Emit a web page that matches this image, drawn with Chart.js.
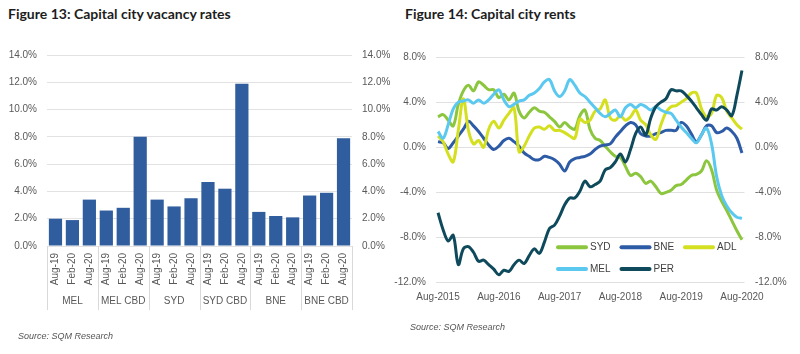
<!DOCTYPE html>
<html>
<head>
<meta charset="utf-8">
<script src="https://cdn.jsdelivr.net/npm/chart.js@4.4.1/dist/chart.umd.min.js"></script>
<style>
    html, body { margin: 0; padding: 0; background: #fff; }
    #wrap { position: relative; width: 800px; height: 354px; overflow: hidden; }
    .title { position: absolute; top: 5px; font-family: Lato, sans-serif; font-weight: 700; font-size: 14px; color: #1d1d1d; white-space: nowrap; }
    .source { position: absolute; font-family: "Liberation Sans", Arial, sans-serif; font-style: italic; font-size: 9px; color: #555; white-space: nowrap; }
    canvas { position: absolute; top: 0; }
</style>
</head>
<body>
<div id="wrap">
    <div class="title" style="left:8px">Figure 13: Capital city vacancy rates</div>
    <div class="title" style="left:405px">Figure 14: Capital city rents</div>
    <canvas id="vacancy" width="400" height="354" style="left:0"></canvas>
    <canvas id="rents" width="412" height="354" style="left:388px"></canvas>
    <div class="source" style="left:18px; top:331px">Source: SQM Research</div>
    <div class="source" style="left:410px; top:322px">Source: SQM Research</div>
</div>
<script>
// Figure 13 data
const periods = ["Aug-19", "Feb-20", "Aug-20"];
const cities = ["MEL", "MEL CBD", "SYD", "SYD CBD", "BNE", "BNE CBD"];
const vacancy = [2.0, 1.9, 3.4, 2.6, 2.8, 8.0, 3.4, 2.9, 3.5, 4.7, 4.2, 11.9, 2.5, 2.2, 2.1, 3.7, 3.9, 7.9];

// Figure 14 data
const months = [
    "Aug-2015", "Sep-2015", "Oct-2015", "Nov-2015", "Dec-2015",
    "Jan-2016", "Feb-2016", "Mar-2016", "Apr-2016", "May-2016", "Jun-2016", "Jul-2016", "Aug-2016", "Sep-2016", "Oct-2016", "Nov-2016", "Dec-2016",
    "Jan-2017", "Feb-2017", "Mar-2017", "Apr-2017", "May-2017", "Jun-2017", "Jul-2017", "Aug-2017", "Sep-2017", "Oct-2017", "Nov-2017", "Dec-2017",
    "Jan-2018", "Feb-2018", "Mar-2018", "Apr-2018", "May-2018", "Jun-2018", "Jul-2018", "Aug-2018", "Sep-2018", "Oct-2018", "Nov-2018", "Dec-2018",
    "Jan-2019", "Feb-2019", "Mar-2019", "Apr-2019", "May-2019", "Jun-2019", "Jul-2019", "Aug-2019", "Sep-2019", "Oct-2019", "Nov-2019", "Dec-2019",
    "Jan-2020", "Feb-2020", "Mar-2020", "Apr-2020", "May-2020", "Jun-2020", "Jul-2020", "Aug-2020",
];
const syd = [2.7, 2.9, 2.4, 1.9, 3.8, 5.0, 5.5, 5.0, 5.8, 5.5,
    5.1, 5.1, 4.4, 4.7, 4.2, 4.8, 3.2, 2.6, 3.1, 3.5,
    3.2, 3.1, 2.7, 2.3, 1.8, 2.2, 1.8, 1.6, 2.8, 3.3,
    1.6, 0.8, 0.6, 0.1, -0.4, -0.8, -0.9, -1.7, -2.5, -2.3,
    -2.6, -3.2, -3.0, -3.5, -4.1, -4.0, -3.8, -3.4, -3.3, -2.9,
    -2.5, -2.4, -2.1, -1.2, -2.0, -3.8, -4.8, -5.6, -6.5, -7.4, -8.2];
const bne = [0.5, 0.4, -0.1, 0.4, 1.0, 1.6, 2.3, 1.9, 1.4, 0.8,
    0.2, -0.2, 0.1, 0.6, 0.8, 0.5, 0.1, -0.5, -0.8, -1.1,
    -1.1, -0.8, -0.9, -1.1, -1.5, -2.1, -1.3, -1.0, -0.9, -0.8,
    -0.6, -0.2, 0.1, 0.2, 0.3, 0.9, 1.4, 1.9, 2.2, 2.0,
    1.2, 1.0, 1.0, 1.2, 1.3, 1.5, 1.5, 1.5, 2.2, 1.9,
    1.2, 0.5, 1.1, 1.9, 1.9, 1.3, 1.4, 1.7, 1.4, 0.8, -0.5];
const adl = [1.0, 0.5, -0.6, -1.3, 1.5, 4.3, 1.5, 0.3, 0.6, 0.0,
    1.6, 2.3, 1.7, 2.4, 3.0, 3.5, -0.4, 0.1, 1.0, 1.7,
    1.8, 1.6, 1.9, 1.5, 1.5, 1.3, 1.0, 0.8, 2.5, 2.2,
    2.4, 3.2, 3.4, 4.2, 2.6, 2.4, 2.8, 2.4, 2.7, 3.3,
    2.4, 2.0, 1.1, 0.7, 2.0, 3.1, 3.6, 3.7, 4.0, 4.3,
    4.8, 4.8, 3.4, 2.7, 3.0, 4.6, 4.4, 3.2, 2.6, 2.0, 1.6];
const mel = [1.4, 0.8, 2.0, 3.4, 4.0, 4.1, 4.2, 3.9, 4.2, 3.9,
    4.2, 4.7, 5.1, 4.2, 3.6, 3.8, 4.1, 4.2, 4.6, 4.8,
    5.2, 5.8, 6.0, 5.0, 4.5, 5.0, 6.0, 5.5, 4.8, 4.5,
    4.0, 3.5, 3.0, 2.7, 3.0, 3.3, 2.7, 3.5, 3.8, 3.5,
    3.8, 3.6, 3.3, 3.6, 3.3, 3.1, 3.0, 2.4, 1.8, 1.3,
    0.8, 0.4, 1.1, 1.7, 0.3, -2.6, -4.3, -5.2, -5.8, -6.2, -6.3];
const per = [-5.8, -7.3, -8.3, -7.8, -10.4, -9.0, -8.8, -9.3, -10.1, -10.0,
    -10.4, -10.8, -11.3, -10.9, -11.0, -10.4, -10.0, -10.3, -9.6, -9.0,
    -9.4, -8.4, -7.2, -6.9, -6.1, -5.1, -4.5, -4.5, -3.9, -3.0,
    -3.5, -3.3, -3.0, -2.0, -1.8, -1.3, -0.6, -1.3, -0.2, 1.2,
    1.8, 1.1, 2.6, 3.6, 4.0, 4.3, 5.1, 5.0, 5.0, 4.6,
    4.1, 3.5, 2.9, 2.4, 3.4, 3.3, 3.6, 3.3, 2.8, 4.6, 6.8];

Chart.defaults.font.family = '"Liberation Sans", Arial, sans-serif';
Chart.defaults.font.size = 10;
Chart.defaults.color = "#595959";

const pct = (v) => v.toFixed(1) + "%";

// vertical separators between the city groups
const groupLines = {
    id: "groupLines",
    afterDraw(chart) {
        const x = chart.scales.x;
        const g = chart.scales.grp;
        const ctx = chart.ctx;
        ctx.save();
        ctx.strokeStyle = "#d9d9d9";
        ctx.lineWidth = 1;
        for (let i = 0; i <= cities.length; i++) {
            const px = Math.round(x.getPixelForValue(i * periods.length - 0.5)) + 0.5;
            ctx.beginPath();
            ctx.moveTo(px, x.top);
            ctx.lineTo(px, g.bottom - 2);
            ctx.stroke();
        }
        ctx.restore();
    },
};

new Chart(document.getElementById("vacancy"), {
    type: "bar",
    data: {
        labels: cities.flatMap(() => periods),
        datasets: [
            {
                data: vacancy,
                backgroundColor: "#2f5d9e",
                categoryPercentage: 1,
                barPercentage: 0.78,
            },
        ],
    },
    options: {
        responsive: false,
        animation: false,
        layout: { padding: { top: 55, bottom: 42, left: 0, right: 0 } },
        plugins: { legend: { display: false }, tooltip: { enabled: false } },
        scales: {
            x: {
                weight: 0,
                grid: { display: false, drawTicks: false },
                border: { display: false },
                ticks: { autoSkip: false, minRotation: 90, maxRotation: 90, padding: 7 },
                afterFit: (s) => { s.height = 42; },
            },
            grp: {
                type: "category",
                position: "bottom",
                weight: 1,
                labels: cities,
                offset: true,
                grid: { display: false, drawTicks: false },
                border: { display: false },
                ticks: { padding: 7 },
                afterFit: (s) => { s.height = 24; },
            },
            y: {
                min: 0,
                max: 14,
                grid: { color: "#e2e2e2", drawTicks: false },
                border: { display: false },
                ticks: { stepSize: 2, padding: 10, callback: pct },
                afterFit: (s) => { s.width = 47; },
            },
            y2: {
                position: "right",
                min: 0,
                max: 14,
                grid: { display: false, drawTicks: false },
                border: { display: false },
                ticks: { stepSize: 2, padding: 10, callback: pct },
                afterFit: (s) => { s.width = 48; },
            },
        },
    },
    plugins: [groupLines],
});

// legend drawn inside the plot, bottom right
const insideLegend = {
    id: "insideLegend",
    afterDraw(chart) {
        const { ctx, chartArea } = chart;
        ctx.save();
        ctx.font = '10px "Liberation Sans", Arial, sans-serif';
        ctx.textBaseline = "middle";
        chart.data.datasets.forEach((ds, i) => {
            const x = chartArea.left + 120.5 + (i % 3) * 63.5;
            const y = chartArea.bottom - 35.4 + Math.floor(i / 3) * 21.7;
            ctx.strokeStyle = ds.borderColor;
            ctx.lineWidth = 4;
            ctx.lineCap = "round";
            ctx.beginPath();
            ctx.moveTo(x + 2, y);
            ctx.lineTo(x + 30, y);
            ctx.stroke();
            ctx.fillStyle = "#404040";
            ctx.fillText(ds.label, x + 34, y);
        });
        ctx.restore();
    },
};

const line = (label, data, color, order) => ({
    label,
    data,
    borderColor: color,
    borderWidth: 3,
    pointRadius: 0,
    tension: 0.35,
    order,
});

new Chart(document.getElementById("rents"), {
    type: "line",
    data: {
        labels: months,
        datasets: [
            line("SYD", syd, "#8cc63f", 5),
            line("BNE", bne, "#2d5ba6", 4),
            line("ADL", adl, "#d4e01f", 3),
            line("MEL", mel, "#5bc8f0", 2),
            line("PER", per, "#0e4a5c", 1),
        ],
    },
    options: {
        responsive: false,
        animation: false,
        layout: { padding: { top: 57, bottom: 47.3, left: 0, right: 0 } },
        plugins: { legend: { display: false }, tooltip: { enabled: false } },
        scales: {
            x: {
                offset: true,
                grid: { display: false, drawTicks: false },
                border: { display: false },
                ticks: {
                    autoSkip: false,
                    maxRotation: 0,
                    padding: 9,
                    callback: (v, i) => (i % 12 === 0 ? months[i] : null),
                },
                afterFit: (s) => { s.height = 24; },
            },
            y: {
                min: -12,
                max: 8,
                grid: { color: "#e0e0e0", drawTicks: false },
                border: { display: false },
                ticks: { stepSize: 4, padding: 9.5, callback: pct },
                afterFit: (s) => { s.width = 47.5; },
            },
            y2: {
                position: "right",
                min: -12,
                max: 8,
                grid: { display: false, drawTicks: false },
                border: { display: false },
                ticks: { stepSize: 4, padding: 10.5, callback: pct },
                afterFit: (s) => { s.width = 55.5; },
            },
        },
    },
    plugins: [insideLegend],
});
</script>
</body>
</html>
